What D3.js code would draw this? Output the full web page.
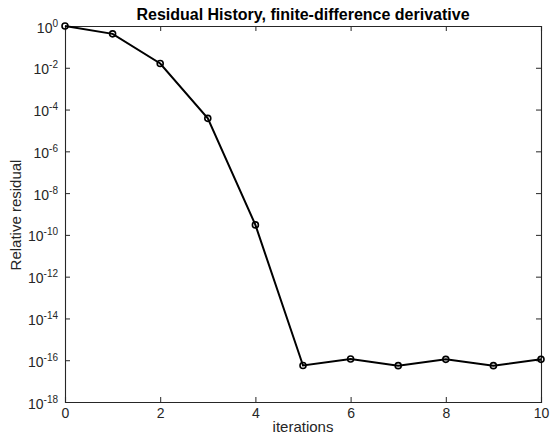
<!DOCTYPE html>
<html>
<head>
<meta charset="utf-8">
<script src="https://cdn.jsdelivr.net/npm/d3@7"></script>
<style>
  body { margin: 0; background: #fff; }
  text { font-family: "Liberation Sans", Arial, sans-serif; }
</style>
</head>
<body>
<div id="chart"></div>
<script>
// residual history data
var iterations = [0, 1, 2, 3, 4, 5, 6, 7, 8, 9, 10]
var residuals = [1, 0.42, 0.016, 3.8e-5, 3e-10, 5.6e-17, 1.15e-16, 5.5e-17, 1.1e-16, 5.5e-17, 1.1e-16]
var xTicks = [0, 2, 4, 6, 8, 10]
var yExponents = [0, -2, -4, -6, -8, -10, -12, -14, -16, -18]

var width = 550, height = 436
var margin = {top: 26, right: 9, bottom: 34, left: 65}
var axisColor = "#262626"

let svg = d3.select("#chart")
    .append("svg")
    .attr("width", width)
    .attr("height", height)

var x = d3.scaleLinear()
    .domain([0, 10])
    .range([margin.left, width - margin.right])

var y = d3.scaleLog()
    .domain([1e-18, 1])
    .range([height - margin.bottom, margin.top])

var yTickVals = yExponents.map(function(e) { return Math.pow(10, e) })

// bottom axis
var xAxisBottom = svg.append("g")
    .attr("transform", `translate(0,${height - margin.bottom})`)
    .call(d3.axisBottom(x).tickValues(xTicks).tickSize(-5).tickPadding(6))
// top axis (mirrored ticks, no labels)
var xAxisTop = svg.append("g")
    .attr("transform", `translate(0,${margin.top})`)
    .call(d3.axisTop(x).tickValues(xTicks).tickSize(-5).tickFormat(""))
// left axis
var yAxisLeft = svg.append("g")
    .attr("transform", `translate(${margin.left},0)`)
    .call(d3.axisLeft(y).tickValues(yTickVals).tickSize(-5).tickFormat(""))
// right axis
var yAxisRight = svg.append("g")
    .attr("transform", `translate(${width - margin.right},0)`)
    .call(d3.axisRight(y).tickValues(yTickVals).tickSize(-5).tickFormat(""))

;[xAxisBottom, xAxisTop, yAxisLeft, yAxisRight].forEach(function(g) {
    g.select(".domain").attr("stroke", axisColor).attr("stroke-width", 1.1)
    g.selectAll(".tick line").attr("stroke", axisColor)
})
xAxisBottom.selectAll(".tick text")
    .attr("fill", axisColor)
    .style("font-size", "14px")
    .style("font-family", "'Liberation Sans', Arial, sans-serif")

// y tick labels with superscript exponents
var ylab = svg.append("g")
yExponents.forEach(function(e) {
    var t = ylab.append("text")
        .attr("x", margin.left - 7)
        .attr("y", y(Math.pow(10, e)) + 6.5)
        .attr("text-anchor", "end")
        .attr("fill", axisColor)
        .style("font-size", "14px")
    t.append("tspan").text("10")
    t.append("tspan")
        .attr("dy", -6)
        .style("font-size", "10px")
        .text(e)
})

// line
var line = d3.line()
    .x(function(d, i) { return x(iterations[i]) })
    .y(function(d) { return y(d) })

svg.append("path")
    .datum(residuals)
    .attr("d", line)
    .attr("fill", "none")
    .attr("stroke", "#000")
    .attr("stroke-width", 2)

// markers
svg.append("g")
    .selectAll("circle")
    .data(residuals)
    .enter().append("circle")
        .attr("cx", function(d, i) { return x(iterations[i]) })
        .attr("cy", function(d) { return y(d) })
        .attr("r", 3)
        .attr("fill", "none")
        .attr("stroke", "#000")
        .attr("stroke-width", 1.6)

// title
svg.append("text")
    .attr("x", (margin.left + width - margin.right) / 2)
    .attr("y", 20)
    .attr("text-anchor", "middle")
    .style("font-size", "16px")
    .style("font-weight", "bold")
    .text("Residual History, finite-difference derivative")

// x label
svg.append("text")
    .attr("x", (margin.left + width - margin.right) / 2)
    .attr("y", 432)
    .attr("text-anchor", "middle")
    .attr("fill", axisColor)
    .style("font-size", "15px")
    .text("iterations")

// y label
svg.append("text")
    .attr("transform", `translate(21,${(margin.top + height - margin.bottom) / 2 + 1}) rotate(-90)`)
    .attr("text-anchor", "middle")
    .attr("fill", axisColor)
    .style("font-size", "15px")
    .text("Relative residual")
</script>
</body>
</html>
